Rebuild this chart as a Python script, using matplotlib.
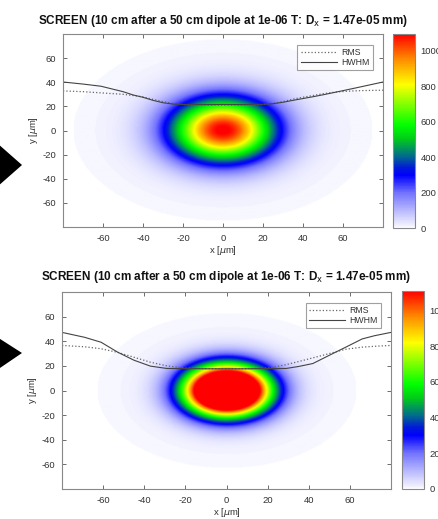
import numpy as np
import matplotlib
matplotlib.use("Agg")
import matplotlib.pyplot as plt
from matplotlib.colors import LinearSegmentedColormap
from matplotlib.patches import Polygon

plt.rcParams["font.family"] = ["Liberation Sans", "DejaVu Sans"]
plt.rcParams["axes.unicode_minus"] = False

W, H = 438, 519
TITLE = "SCREEN (10 cm after a 50 cm dipole at 1e-06 T: D$_{\\rm x}$ = 1.47e-05 mm)"

# beam parameters (peak counts, core sigma [um], halo)
peak = [1093, 2180]
sigma_core = [18.0, 13.7]
clim_max = [1093, 1110]
halo_amp = [15, 15]
halo_sigma = [50.0, 42.0]
halo_radius = [75.0, 63.0]

# beam size profiles drawn over the screens (x [um] -> y [um])
top_x = [-80, -70, -61, -50, -45, -40, -35, -30, -25, -20, -10, 0, 10, 20, 25, 30, 35, 40, 45, 50, 57, 65, 70, 80]
top_hwhm = [40.2, 38.5, 36.7, 32.2, 29.5, 27.5, 25.0, 23.0, 21.9, 21.6, 21.5, 21.6, 21.5, 21.7, 22.2, 23.4, 25.0, 26.5, 28.0, 29.6, 32.0, 34.8, 36.6, 40.2]
top_rms = [32.8, 32.2, 31.2, 30.0, 29.0, 27.9, 25.8, 24.0, 22.4, 21.5, 21.0, 21.0, 21.0, 21.5, 22.5, 24.0, 26.0, 27.6, 29.0, 30.5, 32.0, 32.8, 33.1, 33.4]

bot_x = [-80, -69, -61, -53, -45, -37, -29, -21, -10, 0, 10, 21, 29, 35, 42, 50, 58, 66, 72, 80]
bot_hwhm = [47.2, 43.2, 39.2, 31.2, 24.6, 19.8, 17.9, 17.8, 17.6, 17.6, 17.6, 17.8, 17.9, 19.5, 21.9, 28.6, 35.2, 41.9, 44.5, 47.2]
bot_rms = [36.6, 35.5, 33.9, 31.0, 27.0, 23.0, 20.0, 18.3, 17.8, 17.8, 17.8, 18.3, 21.0, 23.5, 26.5, 30.0, 33.5, 35.2, 35.9, 36.6]

cmap = LinearSegmentedColormap.from_list("screen", [
    (0.00, (1.0, 1.0, 1.0)),
    (0.005, (0.96, 0.96, 1.0)),
    (0.09, (0.72, 0.72, 1.0)),
    (0.18, (0.45, 0.45, 1.0)),
    (0.27, (0.0, 0.0, 1.0)),
    (0.31, (0.0, 0.1, 0.85)),
    (0.37, (0.0, 0.42, 0.55)),
    (0.46, (0.0, 0.8, 0.1)),
    (0.53, (0.0, 1.0, 0.0)),
    (0.74, (1.0, 1.0, 0.0)),
    (0.87, (1.0, 0.55, 0.0)),
    (1.00, (1.0, 0.0, 0.0)),
])

GRAY = "#555555"


def box(l, t, r, b):
    return [l / W, 1 - b / H, (r - l) / W, (b - t) / H]


def screen(i):
    g = np.linspace(-80, 80, 321)
    X, Y = np.meshgrid(g, g)
    r2 = X ** 2 + Y ** 2
    img = peak[i] * np.exp(-r2 / (2 * sigma_core[i] ** 2))
    halo = halo_amp[i] * np.exp(-r2 / (2 * halo_sigma[i] ** 2))
    img = img + np.where(r2 < halo_radius[i] ** 2, halo, 0)
    return img


def panel(fig, i, ax_px, cb_px, title_y, bx, by, xs, hw, rms, leg_anchor):
    ax = fig.add_axes(box(*ax_px))
    im = ax.imshow(screen(i), extent=[-80, 80, -80, 80], origin="lower", aspect="auto",
                   cmap=cmap, vmin=0, vmax=clim_max[i], interpolation="bilinear")
    ax.plot(xs, rms, ":", color="#666666", lw=0.9, label="RMS")
    ax.plot(xs, hw, "-", color="#444444", lw=0.8, label="HWHM")
    ax.set_xlim(-80, 80)
    ax.set_ylim(-80, 80)
    ax.set_xticks([-60, -40, -20, 0, 20, 40, 60])
    ax.set_yticks([-60, -40, -20, 0, 20, 40, 60])
    ax.tick_params(direction="in", length=3, width=0.6, colors=GRAY, labelsize=6.8,
                   top=True, right=True, labelcolor="#333333", pad=5)
    for s in ax.spines.values():
        s.set_color("#888888")
        s.set_linewidth(0.8)
    ax.set_xlabel("x [$\\mu$m]", fontsize=6.8, color="#333333", labelpad=1)
    ax.set_ylabel("y [$\\mu$m]", fontsize=6.8, color="#333333", labelpad=2)
    leg = ax.legend(loc="upper right", bbox_to_anchor=leg_anchor, fontsize=6.3, frameon=True,
                    fancybox=False, handlelength=4.2, borderpad=0.35, labelspacing=0.15,
                    handletextpad=0.5, borderaxespad=0)
    leg.get_frame().set_edgecolor("#888888")
    leg.get_frame().set_linewidth(0.8)
    for t in leg.get_texts():
        t.set_color("#333333")

    cax = fig.add_axes(box(*cb_px))
    cb = fig.colorbar(im, cax=cax, ticks=[0, 200, 400, 600, 800, 1000])
    cb.outline.set_edgecolor("#888888")
    cb.outline.set_linewidth(0.8)
    cax.tick_params(length=0, labelsize=6.8, labelcolor="#333333", pad=4)

    cx = (ax_px[0] + ax_px[2]) / 2 / W
    fig.text(cx, 1 - title_y / H, TITLE, ha="center", va="center", fontsize=8.5,
             fontweight="bold", color="#111111")

    tri = Polygon([((bx[0]) / W, 1 - by[0] / H), (bx[1] / W, 1 - by[1] / H),
                   (bx[0] / W, 1 - by[2] / H)], closed=True, transform=fig.transFigure,
                  facecolor="black", edgecolor="none")
    fig.add_artist(tri)


fig = plt.figure(figsize=(W / 100, H / 100), dpi=100)
panel(fig, 0, (63, 34, 383, 227), (393, 34, 415, 228), 21,
      (-3, 22), (143, 165, 187), top_x, top_hwhm, top_rms, (0.969, 0.943))
panel(fig, 1, (62, 292, 391, 489), (402, 291, 424, 489), 277,
      (-3, 22), (337, 353, 370), bot_x, bot_hwhm, bot_rms, (0.970, 0.946))
fig.savefig("out.png", dpi=100)
